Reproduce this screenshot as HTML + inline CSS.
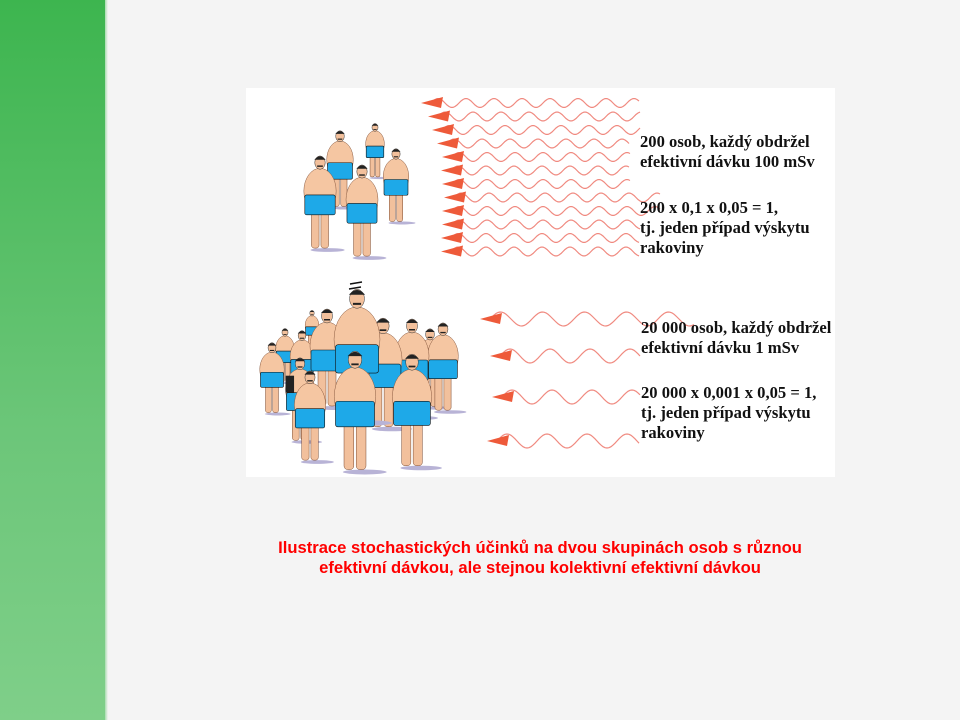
<!DOCTYPE html>
<html><head><meta charset="utf-8"><style>
html,body{margin:0;padding:0}
body{width:960px;height:720px;background:#f4f4f4;position:relative;overflow:hidden}
#bar{position:absolute;left:0;top:0;width:105px;height:720px;background:linear-gradient(#3db54f,#6cc679 60%,#7fcf89)}
#edge{position:absolute;left:105px;top:0;width:3px;height:720px;background:linear-gradient(90deg,#a8dcae,#f4f4f4)}
#img{position:absolute;left:246px;top:88px;width:589px;height:389px;background:#fff}
svg{position:absolute;left:0;top:0}
.t{position:absolute;font-family:"Liberation Serif",serif;font-weight:bold;font-size:16.6px;line-height:20px;color:#111;white-space:nowrap}
#cap{position:absolute;left:180px;width:720px;top:538px;text-align:center;font-family:"Liberation Sans",sans-serif;font-weight:bold;font-size:16.6px;line-height:19.5px;color:#ff0000;white-space:nowrap}
</style></head><body>
<div id="bar"></div><div id="edge"></div>
<div id="img"></div>
<svg id="s" width="960" height="720" viewBox="0 0 960 720"></svg>
<div class="t" style="left:640px;top:132px">200 osob, každý obdržel<br>efektivní dávku 100 mSv</div>
<div class="t" style="left:640px;top:198px">200 x 0,1 x 0,05 = 1,<br>tj. jeden případ výskytu<br>rakoviny</div>
<div class="t" style="left:641px;top:318px">20 000 osob, každý obdržel<br>efektivní dávku 1 mSv</div>
<div class="t" style="left:641px;top:383px">20 000 x 0,001 x 0,05 = 1,<br>tj. jeden případ výskytu<br>rakoviny</div>
<div id="cap">Ilustrace stochastických účinků na dvou skupinách osob s různou<br>efektivní dávkou, ale stejnou kolektivní efektivní dávkou</div>
<script>
var s=document.getElementById('s'),h='';
function wave(x0,y,x1,wl,amp){var d='M'+(x0+10)+' '+y;for(var x=x0+10;x<=x1;x+=2){var yy=y-amp*Math.sin((x-x0-10)/wl*2*Math.PI);d+=' L'+x+' '+yy.toFixed(1);}
h+='<path d="'+d+'" fill="none" stroke="#f08a80" stroke-width="1.2"/>';
h+='<polygon points="'+x0+','+y+' '+(x0+22)+','+(y-6)+' '+(x0+20)+','+(y+5)+'" fill="#ee5a3a"/>';}
var tx=[421,428,432,437,442,441,442,444,442,442,441,441];
for(var i=0;i<12;i++){var y=103+i*13.5;var end=(i==7||i==8)?660:(i<3?640:(i>=9?640:630));wave(tx[i],y,end,28,4.5);}
wave(480,319,695,42,7);wave(490,356,640,40,7);wave(492,397,640,40,7);wave(487,441,640,40,7);
function p(cx,t,H,dark){
 var k=H/100;
 h+='<ellipse cx="'+(cx+8*k)+'" cy="'+(t+H)+'" rx="'+(18*k)+'" ry="'+(2*k)+'" fill="#b8b3d6"/>';
 h+='<rect x="'+(cx-9*k)+'" y="'+(t+60*k)+'" width="'+(8*k)+'" height="'+(38*k)+'" rx="'+(3*k)+'" fill="#f2c09c" stroke="#7a4a30" stroke-width="0.5"/>';
 h+='<rect x="'+(cx+1*k)+'" y="'+(t+60*k)+'" width="'+(8*k)+'" height="'+(38*k)+'" rx="'+(3*k)+'" fill="#f2c09c" stroke="#7a4a30" stroke-width="0.5"/>';
 h+='<ellipse cx="'+cx+'" cy="'+(t+38*k)+'" rx="'+(17*k)+'" ry="'+(24*k)+'" fill="#f5c6a2" stroke="#8a5a40" stroke-width="0.5"/>';
 h+='<rect x="'+(cx-16*k)+'" y="'+(t+42*k)+'" width="'+(32*k)+'" height="'+(21*k)+'" rx="'+(2*k)+'" fill="#1ea9e8" stroke="#111" stroke-width="0.6"/>';
 h+='<ellipse cx="'+cx+'" cy="'+(t+8*k)+'" rx="'+(5.5*k)+'" ry="'+(7*k)+'" fill="#f2c09c" stroke="#333" stroke-width="0.5"/>';
 h+='<path d="M'+(cx-6*k)+' '+(t+5*k)+' Q'+cx+' '+(t-2*k)+' '+(cx+6*k)+' '+(t+5*k)+'" fill="#222"/>';
 h+='<rect x="'+(cx-3*k)+'" y="'+(t+11*k)+'" width="'+(6*k)+'" height="'+(1.5*k)+'" fill="#222"/>';
 if(dark)h+='<rect x="'+(cx-17*k)+'" y="'+(t+22*k)+'" width="'+(10*k)+'" height="'+(20*k)+'" fill="#222"/>';
}
p(375,123,55);p(340,130,78);p(396,148,75);p(320,155,95);p(362,164,94);
p(312,310,40);p(285,328,55);p(302,330,70);p(430,328,80);p(443,322,90);p(327,308,100);p(412,318,100);p(383,317,112);p(357,288,135);p(272,342,72);p(300,357,85,true);p(310,370,92);p(412,353,115);p(355,350,122);
h+='<path d="M350 284 L362 282 M349 289 L361 287" stroke="#111" stroke-width="1.5"/>';
s.innerHTML=h;
</script>
</body></html>
